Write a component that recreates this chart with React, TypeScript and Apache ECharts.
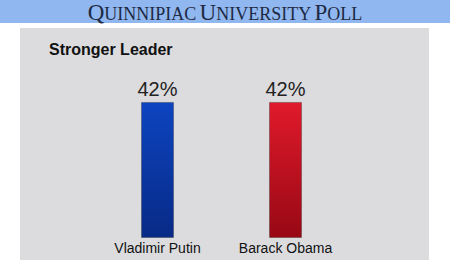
import React, { useEffect, useRef } from "react";
import * as echarts from "echarts";

const categories = ["Vladimir Putin", "Barack Obama"];
const values = [42, 42];
const chartTitle = "Stronger Leader";

const blueGrad = new echarts.graphic.LinearGradient(0, 0, 0, 1, [
  { offset: 0, color: "#0d44c0" },
  { offset: 1, color: "#082a86" },
]);
const redGrad = new echarts.graphic.LinearGradient(0, 0, 0, 1, [
  { offset: 0, color: "#e01a2c" },
  { offset: 1, color: "#980814" },
]);
const barColors = [blueGrad, redGrad];

export default function App() {
  const ref = useRef<HTMLDivElement>(null);
  useEffect(() => {
    if (!ref.current) return;
    const chart = echarts.init(ref.current, null, { renderer: "svg" });
    chart.setOption({
      animation: false,
      backgroundColor: "#ffffff",
      graphic: [
        { type: "rect", z: -10, shape: { x: 0, y: 0, width: 450, height: 23 }, style: { fill: "#90b7ef" } },
        { type: "rect", z: -10, shape: { x: 20, y: 28, width: 409, height: 232 }, style: { fill: "#dcdcdf" } },
        {
          type: "text",
          z: 10,
          x: 225,
          y: 12,
          style: {
            text: "{b|Q}{s|UINNIPIAC} {b|U}{s|NIVERSITY} {b|P}{s|OLL}",
            align: "center",
            verticalAlign: "middle",
            fill: "#1e2a44",
            rich: {
              b: { fontFamily: "Liberation Serif", fontSize: 23, fill: "#1e2a44", lineHeight: 22 },
              s: { fontFamily: "Liberation Serif", fontSize: 18, fill: "#1e2a44", lineHeight: 22, padding: [3, 0, 0, 0] },
            },
          },
        },
      ],
      title: {
        text: chartTitle,
        left: 44,
        top: 36,
        textStyle: { fontFamily: "Liberation Sans", fontWeight: "bold", fontSize: 16, color: "#111" },
      },
      grid: { left: 93.5, right: 100.5, top: 76, bottom: 22, containLabel: false },
      xAxis: {
        type: "category",
        data: categories,
        axisLine: { show: false },
        axisTick: { show: false },
        axisLabel: { fontFamily: "Liberation Sans", fontSize: 14, color: "#111", margin: 3 },
      },
      yAxis: { type: "value", min: 0, max: 50, show: false, splitLine: { show: false } },
      series: [
        {
          type: "bar",
          data: values.map((v, i) => ({
            value: v,
            itemStyle: {
              color: barColors[i],
              borderColor: "rgba(40,40,40,0.35)",
              borderWidth: 1,
            },
          })),
          barWidth: 33,
          label: {
            show: true,
            position: "top",
            distance: 3,
            formatter: "{c}%",
            fontFamily: "Liberation Sans",
            fontSize: 20,
            color: "#222",
          },
        },
      ],
    });
    return () => chart.dispose();
  }, []);
  return <div ref={ref} style={{ position: "fixed", left: 0, top: 0, width: 450, height: 260 }} />;
}
